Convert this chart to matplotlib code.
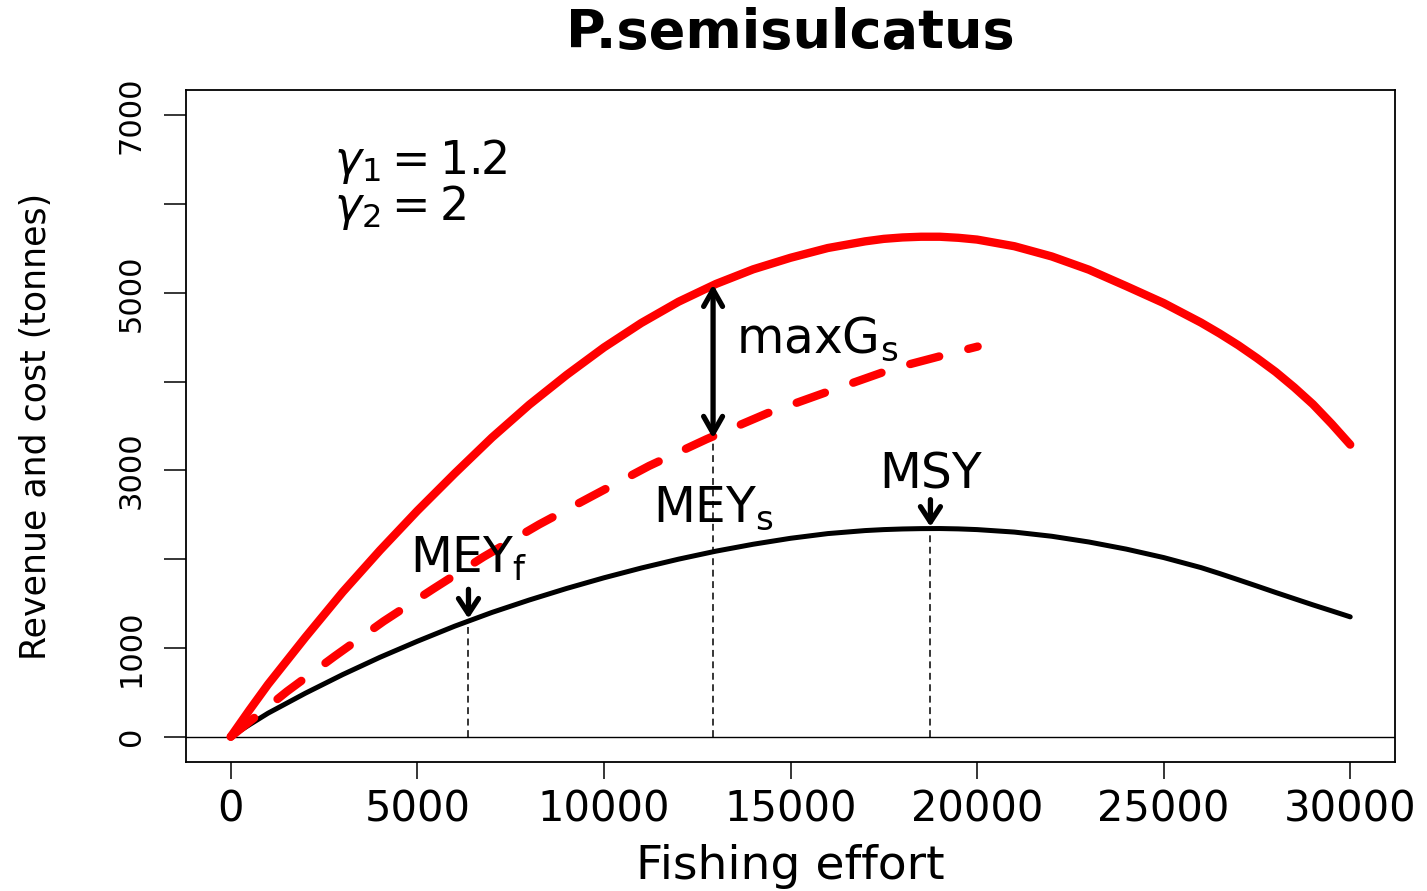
import matplotlib
matplotlib.use('Agg')
import matplotlib.pyplot as plt

# fishing effort grid
effort = [0, 500, 1000, 2000, 3000, 4000, 5000, 6000, 7000, 8000, 9000, 10000,
          11000, 12000, 13000, 14000, 15000, 16000, 17000, 17500, 18000, 18500,
          19000, 19500, 20000, 21000, 22000, 23000, 24000, 25000, 26000, 26500,
          27000, 27500, 28000, 28500, 29000, 29500, 30000]

# revenue (red solid)
revenue = [0, 300, 590, 1120, 1630, 2100, 2545, 2965, 3370, 3740, 4075, 4385,
           4660, 4900, 5100, 5265, 5395, 5505, 5580, 5608, 5624, 5632,
           5632, 5620, 5600, 5525, 5410, 5260, 5075, 4885, 4665, 4542,
           4410, 4265, 4110, 3935, 3745, 3525, 3290]

# yield (black solid)
catch = [0, 135, 265, 490, 700, 895, 1075, 1245, 1400, 1540, 1670, 1790,
         1900, 2000, 2090, 2168, 2235, 2288, 2322, 2333, 2340, 2344,
         2345, 2341, 2333, 2305, 2258, 2193, 2113, 2018, 1905, 1838,
         1768, 1697, 1625, 1555, 1485, 1418, 1350]

# cost (red dashed), read at the dash centres
cost_effort = [0, 1507, 2779, 4095, 5432, 6771, 8264, 9692, 11209, 12747,
               14375, 16069, 17786, 19570, 20016]
cost = [0, 510, 905, 1300, 1667, 2025, 2391, 2712, 3050, 3351,
        3643, 3897, 4151, 4348, 4395]

# reference points
mey_f = 6370
mey_s = 12925
msy = 18750
mey_f_catch = 1310
mey_s_cost = 3360
mey_s_rev = 5095
msy_catch = 2345

fig = plt.figure(figsize=(14.27, 8.91), dpi=100)
ax = fig.add_axes([186/1427, 1 - 762/891, (1395-186)/1427, (762-90)/891])

ax.axhline(0, color='black', lw=1.0, zorder=1)

ax.plot(effort, catch, color='black', lw=3.6, solid_capstyle='round',
        solid_joinstyle='round', zorder=2)
ax.plot(effort, revenue, color='#ff0000', lw=6, solid_capstyle='round',
        solid_joinstyle='round', zorder=3)
ax.plot(cost_effort, cost, color='#ff0000', lw=6, linestyle=(0, (3.6, 3.6)),
        dash_capstyle='round', dash_joinstyle='round', zorder=3)

# vertical dotted guides
ax.plot([mey_f, mey_f], [0, mey_f_catch], color='black', lw=1.1, linestyle=(0, (4.5, 3)))
ax.plot([mey_s, mey_s], [0, mey_s_cost], color='black', lw=1.1, linestyle=(0, (4.5, 3)))
ax.plot([msy, msy], [0, msy_catch], color='black', lw=1.1, linestyle=(0, (4.5, 3)))

arr = dict(color='black', lw=3.8, shrinkA=0, shrinkB=0, mutation_scale=20)
ax.annotate('', xy=(mey_s, mey_s_cost), xytext=(mey_s, mey_s_rev),
            arrowprops=dict(arrowstyle='<->,head_length=0.6,head_width=0.34', **arr), zorder=5)
ax.annotate('', xy=(msy, msy_catch + 20), xytext=(msy, 2670),
            arrowprops=dict(arrowstyle='->,head_length=0.55,head_width=0.36', **arr), zorder=5)
ax.annotate('', xy=(mey_f, mey_f_catch + 20), xytext=(mey_f, 1660),
            arrowprops=dict(arrowstyle='->,head_length=0.55,head_width=0.36', **arr), zorder=5)

fs = 35
ax.text(msy, 2800, 'MSY', ha='center', va='baseline', fontsize=fs)
ax.text(mey_s, 2416, r'MEY$_\mathregular{s}$', ha='center', va='baseline', fontsize=fs)
ax.text(mey_f, 1840, r'MEY$_\mathregular{f}$', ha='center', va='baseline', fontsize=fs)
ax.text(13540, 4324, r'maxG$_\mathregular{s}$', ha='left', va='baseline', fontsize=fs)
ax.text(2756, 6334, r'$\gamma_1 = 1.2$', ha='left', va='baseline', fontsize=33)
ax.text(2756, 5826, r'$\gamma_2 = 2$', ha='left', va='baseline', fontsize=33)

ax.set_xlim(-1200, 31200)
ax.set_ylim(-285, 7285)

ax.set_xticks([0, 5000, 10000, 15000, 20000, 25000, 30000])
ax.set_xticklabels(['0', '5000', '10000', '15000', '20000', '25000', '30000'], fontsize=30)
ax.set_yticks([0, 1000, 2000, 3000, 4000, 5000, 6000, 7000])
ax.set_yticklabels(['0', '1000', '', '3000', '', '5000', '', '7000'],
                   fontsize=22, rotation=90, va='center')
ax.tick_params(axis='x', length=12, width=1.1, pad=7)
ax.tick_params(axis='y', length=16, width=1.1, pad=13)
for s in ax.spines.values():
    s.set_linewidth(1.3)

ax.set_xlabel('Fishing effort', fontsize=34, labelpad=10)
ax.set_ylabel('Revenue and cost (tonnes)', fontsize=25, labelpad=46)
ax.set_title('P.semisulcatus', fontsize=39, fontweight='bold', pad=30)

fig.savefig('out.png', dpi=100)
